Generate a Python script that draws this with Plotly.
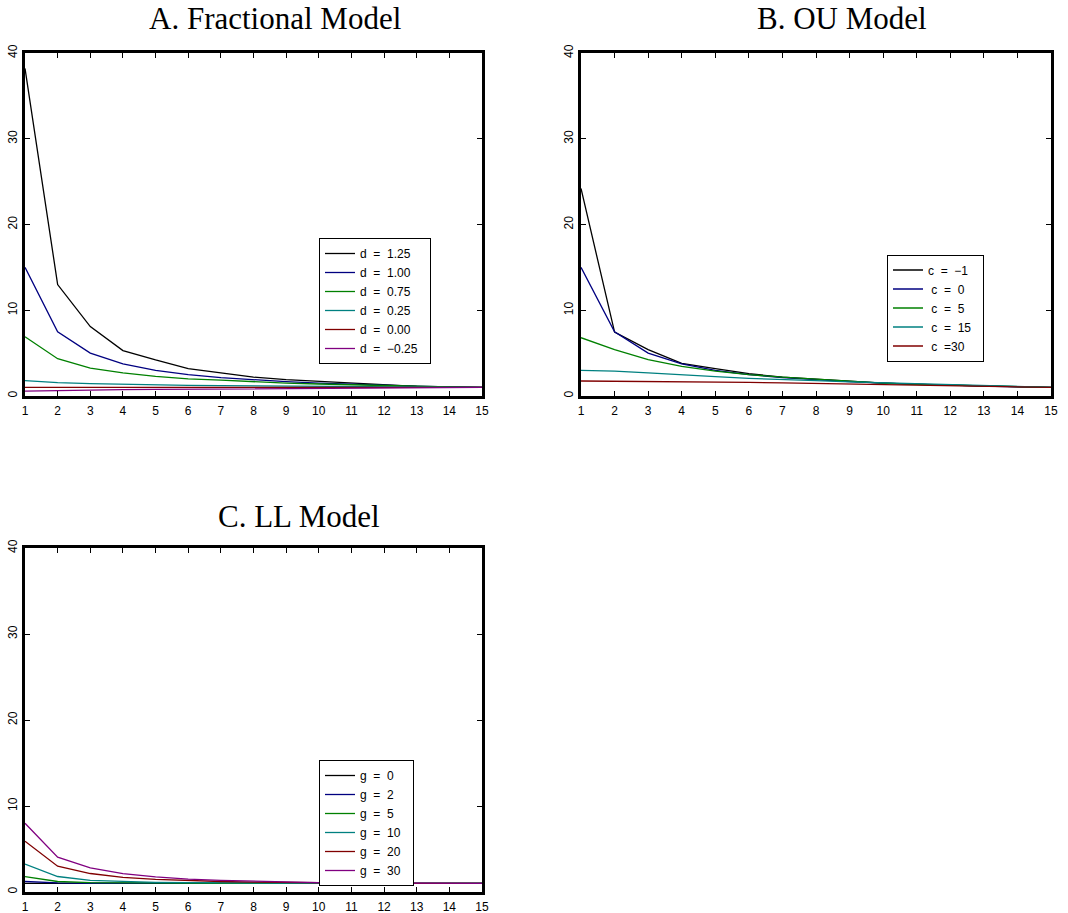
import plotly.graph_objects as go

horizons = list(range(1, 16))

# Panel A: Fractional model
frac_labels = ["d = 1.25", "d = 1.00", "d = 0.75", "d = 0.25", "d = 0.00", "d = \u22120.25"]
frac_d125 = [38.2, 13.0, 8.1, 5.3, 4.2, 3.2, 2.7, 2.2, 1.9, 1.7, 1.45, 1.25, 1.13, 1.05, 1.0]
frac_d100 = [15.0, 7.5, 5.0, 3.75, 3.0, 2.5, 2.14, 1.88, 1.67, 1.5, 1.36, 1.25, 1.15, 1.07, 1.0]
frac_d075 = [6.9, 4.35, 3.25, 2.7, 2.3, 2.0, 1.85, 1.65, 1.5, 1.4, 1.3, 1.2, 1.12, 1.05, 1.0]
frac_d025 = [1.8, 1.55, 1.45, 1.36, 1.3, 1.25, 1.2, 1.17, 1.14, 1.11, 1.08, 1.06, 1.04, 1.02, 1.0]
frac_d000 = [1.0] * 15
frac_dm025 = [0.58, 0.65, 0.7, 0.74, 0.77, 0.8, 0.83, 0.85, 0.87, 0.9, 0.92, 0.94, 0.96, 0.98, 1.0]
frac_series = [frac_d125, frac_d100, frac_d075, frac_d025, frac_d000, frac_dm025]

# Panel B: OU model
ou_labels = ["c = \u22121", "\u00a0c = 0", "\u00a0c = 5", "\u00a0c = 15", "\u00a0c =30"]
ou_cm1 = [24.2, 7.45, 5.4, 3.8, 3.2, 2.6, 2.2, 1.95, 1.7, 1.5, 1.35, 1.25, 1.13, 1.05, 1.0]
ou_c0 = [15.0, 7.5, 5.0, 3.75, 3.0, 2.5, 2.14, 1.88, 1.67, 1.5, 1.36, 1.25, 1.15, 1.07, 1.0]
ou_c5 = [6.8, 5.4, 4.25, 3.45, 2.9, 2.5, 2.2, 1.95, 1.7, 1.5, 1.35, 1.25, 1.14, 1.06, 1.0]
ou_c15 = [3.0, 2.9, 2.7, 2.45, 2.25, 2.05, 1.95, 1.8, 1.65, 1.55, 1.42, 1.3, 1.2, 1.08, 1.0]
ou_c30 = [1.75, 1.73, 1.7, 1.67, 1.62, 1.58, 1.53, 1.47, 1.42, 1.36, 1.3, 1.23, 1.16, 1.08, 1.0]
ou_series = [ou_cm1, ou_c0, ou_c5, ou_c15, ou_c30]

# Panel C: LL model
ll_labels = ["g = 0", "g = 2", "g = 5", "g = 10", "g = 20", "g = 30"]
ll_g0 = [1.0] * 15
ll_g2 = [1.22, 1.05, 1.02, 1.0, 1.0, 1.0, 1.0, 1.0, 1.0, 1.0, 1.0, 1.0, 1.0, 1.0, 1.0]
ll_g5 = [1.8, 1.22, 1.08, 1.04, 1.02, 1.0, 1.0, 1.0, 1.0, 1.0, 1.0, 1.0, 1.0, 1.0, 1.0]
ll_g10 = [3.25, 1.8, 1.35, 1.2, 1.12, 1.08, 1.05, 1.03, 1.02, 1.0, 1.0, 1.0, 1.0, 1.0, 1.0]
ll_g20 = [5.9, 3.0, 2.15, 1.7, 1.47, 1.32, 1.22, 1.15, 1.1, 1.06, 1.04, 1.02, 1.01, 1.0, 1.0]
ll_g30 = [8.0, 4.05, 2.8, 2.13, 1.75, 1.5, 1.35, 1.25, 1.17, 1.1, 1.06, 1.03, 1.02, 1.01, 1.0]
ll_series = [ll_g0, ll_g2, ll_g5, ll_g10, ll_g20, ll_g30]

titles = ["A. Fractional Model", "B. OU Model", "C. LL Model"]
colors6 = ["#000000", "#000080", "#008000", "#008080", "#800000", "#800080"]
colors_ou = ["#000000", "#000080", "#008000", "#008080", "#800000"]

x_ticks = list(range(1, 16))
y_ticks = [0, 10, 20, 30, 40]

W, H = 1068, 913


def px_x(v):
    return v / W


def px_y(v):
    return 1 - v / H


fig = go.Figure()

panels = [
    ("x", "y", frac_series, frac_labels, colors6, "legend"),
    ("x2", "y2", ou_series, ou_labels, colors_ou, "legend2"),
    ("x3", "y3", ll_series, ll_labels, colors6, "legend3"),
]

for xa, ya, series, labels, cols, leg in panels:
    for vals, lab, col in zip(series, labels, cols):
        fig.add_trace(go.Scatter(
            x=horizons, y=vals, mode="lines", name=lab.replace(" ", "\u00a0\u00a0") + "\u00a0\u00a0",
            line=dict(color=col, width=1.3), xaxis=xa, yaxis=ya, legend=leg,
            hoverinfo="skip",
        ))

axis_common = dict(
    showline=True, linecolor="black", linewidth=3, mirror="ticks",
    ticks="inside", ticklen=5, tickwidth=1, tickcolor="black",
    showgrid=False, zeroline=False, automargin=False,
    tickfont=dict(family="Liberation Sans, Arial, sans-serif", size=12, color="black"),
)

domains = {
    "A": ([px_x(25), px_x(482)], [px_y(396), px_y(53)]),
    "B": ([px_x(581), px_x(1051)], [px_y(396), px_y(53)]),
    "C": ([px_x(25), px_x(482)], [px_y(892), px_y(548)]),
}

layout = dict(
    width=W, height=H, autosize=False,
    margin=dict(l=0, r=0, t=0, b=0, pad=0),
    paper_bgcolor="white", plot_bgcolor="white",
    hovermode=False,
)

for i, key in enumerate(["A", "B", "C"]):
    sfx = "" if i == 0 else str(i + 1)
    xd, yd = domains[key]
    layout["xaxis" + sfx] = dict(axis_common, domain=xd, range=[1, 15], tickvals=x_ticks,
                                 anchor="y" + sfx, ticklabelstandoff=2)
    layout["yaxis" + sfx] = dict(axis_common, domain=yd, range=[0, 40], tickvals=y_ticks,
                                 anchor="x" + sfx, tickangle=-90)

legend_common = dict(
    bgcolor="white", bordercolor="black", borderwidth=1,
    font=dict(family="Liberation Sans, Arial, sans-serif", size=12, color="black"),
    xanchor="left", yanchor="middle", tracegroupgap=0,
)
layout["legend"] = dict(legend_common, x=px_x(319), y=px_y(301))
layout["legend2"] = dict(legend_common, x=px_x(887), y=px_y(308))
layout["legend3"] = dict(legend_common, x=px_x(319), y=px_y(823))

title_pos = [(275, 18), (842, 18), (299, 516)]
annotations = []
for t, (tx, ty) in zip(titles, title_pos):
    annotations.append(dict(
        text=t, x=px_x(tx), y=px_y(ty), xref="paper", yref="paper",
        xanchor="center", yanchor="middle", showarrow=False,
        font=dict(family="Liberation Serif, Times New Roman, serif", size=31, color="black"),
    ))
layout["annotations"] = annotations

fig.update_layout(**layout)
fig.write_html("out.html", config={"displayModeBar": False},
               post_script="document.body.style.margin='0';")
